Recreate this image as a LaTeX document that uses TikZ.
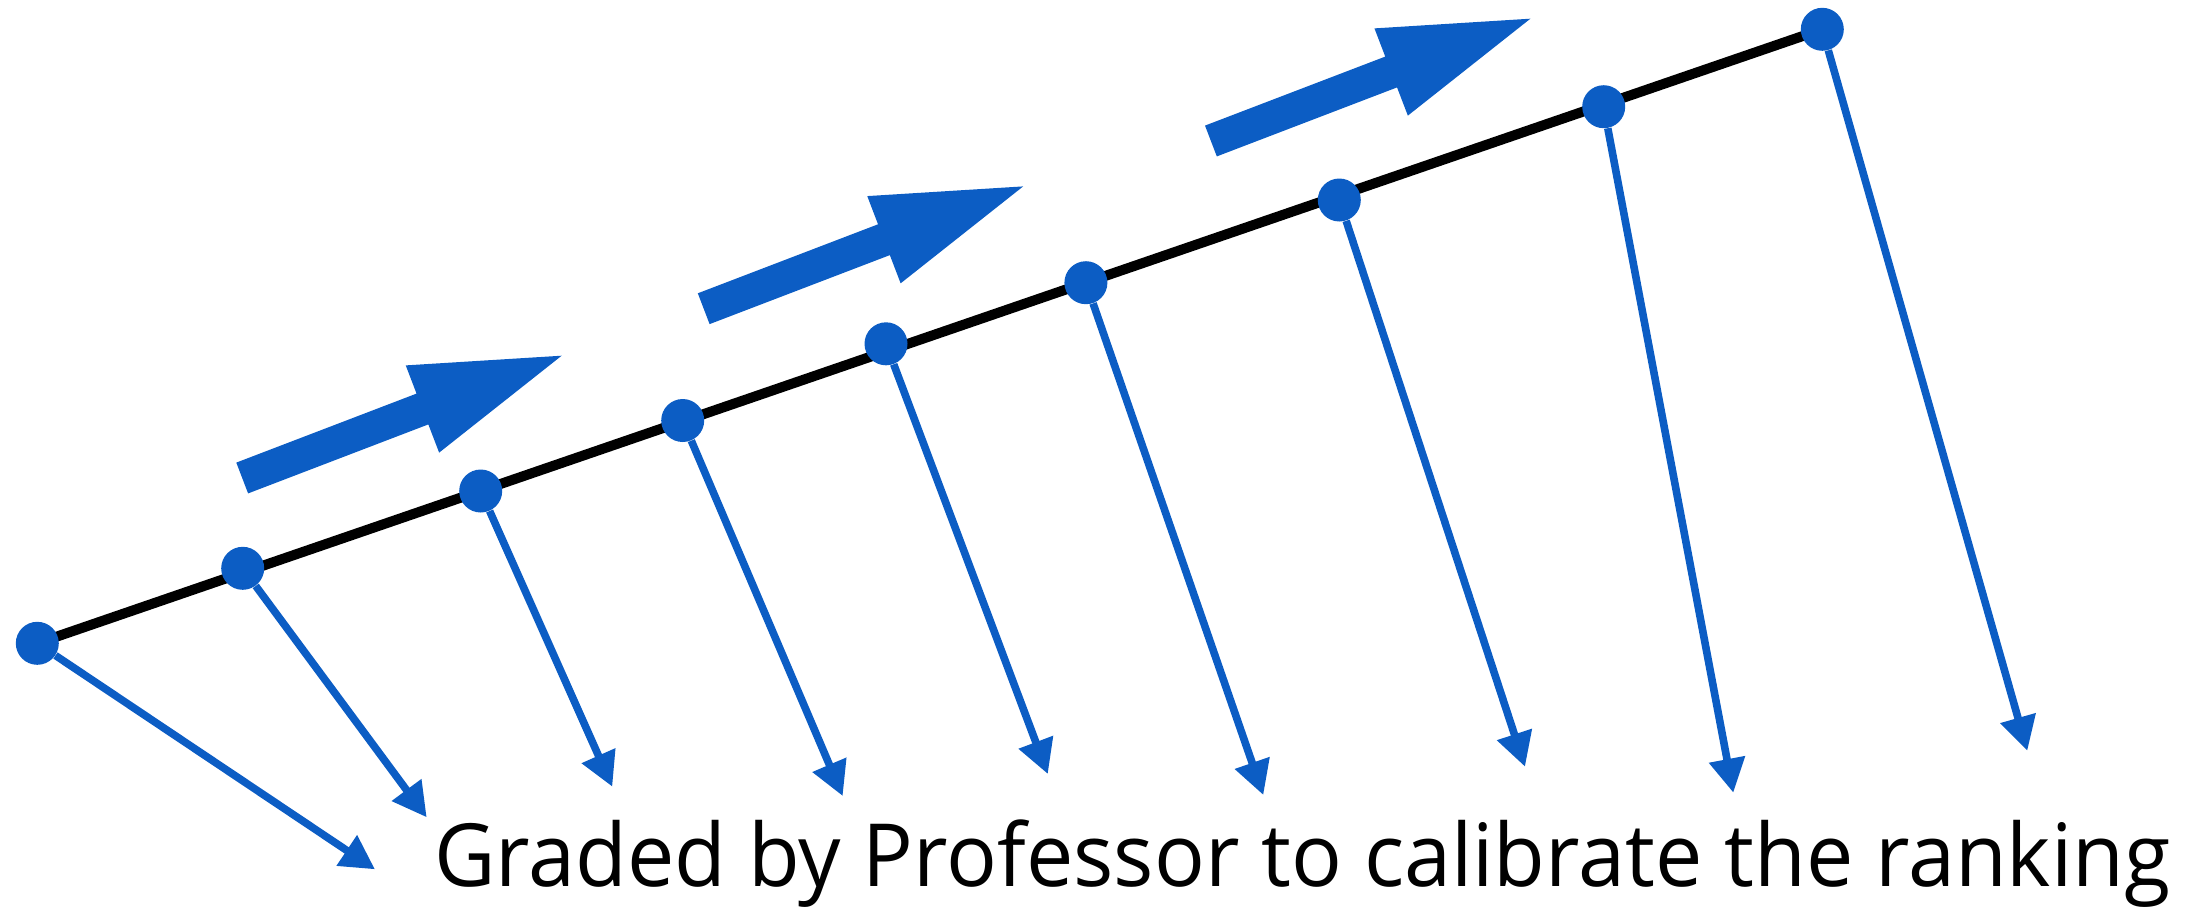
\documentclass[tikz,border=0pt]{standalone}
\usepackage{fontspec}
\setmainfont{Open Sans}
\usetikzlibrary{arrows.meta}
\definecolor{kblue}{RGB}{12,93,196}
\tikzset{
  dot/.style={circle, fill=kblue, inner sep=0pt, minimum size=21.5pt},
  ptr/.style={draw=kblue, line width=3.8pt, -{Triangle[length=17pt,width=17.5pt]}, fill=kblue},
  axisline/.style={draw=black, line width=5pt},
  fatarrow/.pic={\fill[kblue] (0,-16.5) -- (193,-16.5) -- (193,-46.7) -- (342.1,0) -- (193,46.7) -- (193,16.5) -- (0,16.5) -- cycle;}
}
\begin{document}
\begin{tikzpicture}[x=0.5pt,y=-0.5pt]
\useasboundingbox (0,0) rectangle (2198,906);
% dot positions
\coordinate (p1) at (37.3,643.3);
\coordinate (p2) at (242.7,568.3);
\coordinate (p3) at (480.7,491);
\coordinate (p4) at (682.7,420.5);
\coordinate (p5) at (886,343.8);
\coordinate (p6) at (1085.9,282.7);
\coordinate (p7) at (1339.3,200);
\coordinate (p8) at (1603.7,106.7);
\coordinate (p9) at (1822.3,29.3);
% arrow tips
\coordinate (t1) at (375,869.3);
\coordinate (t2) at (426.7,817.3);
\coordinate (t3) at (612.3,786.7);
\coordinate (t4) at (842.7,796);
\coordinate (t5) at (1047.8,774);
\coordinate (t6) at (1263.3,795);
\coordinate (t7) at (1525,766.7);
\coordinate (t8) at (1733.3,792.7);
\coordinate (t9) at (2027.3,750.7);
% main line
\draw[axisline] (p1) -- (p9);
% dots
\foreach \i in {1,...,9} { \node[dot] (d\i) at (p\i) {}; }
% grade arrows
\foreach \i in {1,...,9} { \draw[ptr] (d\i) -- (t\i); }
% big direction arrows
\pic[shift={(242.2,478)}, rotate=20.95] {fatarrow};
\pic[shift={(703.7,308.7)}, rotate=20.95] {fatarrow};
\pic[shift={(1210.9,141)}, rotate=20.95] {fatarrow};
% caption
\node[anchor=base west, inner sep=0pt] (cap) at (434,886.7)
  {\resizebox{868pt}{33.35pt}{Graded by Professor to calibrate the ranking}};
\end{tikzpicture}
\end{document}
